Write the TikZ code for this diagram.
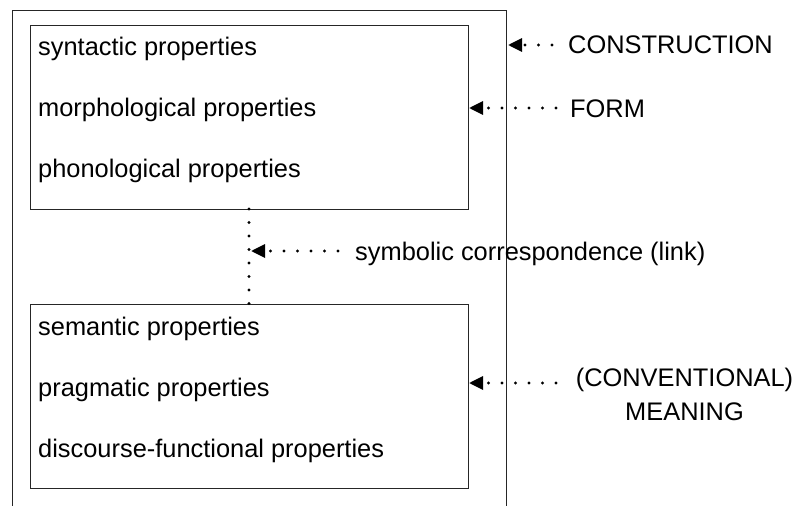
\documentclass[tikz,border=0pt]{standalone}
\usepackage{fontspec}
\setmainfont{Liberation Sans}
\usetikzlibrary{arrows.meta}
\begin{document}
\begin{tikzpicture}[x=1pt,y=-1pt,
  boxline/.style={draw=black!85,line width=1.4pt},
  propbox/.style={boxline,minimum width=438.5pt,minimum height=184pt,anchor=north west,inner sep=0pt},
  proptext/.style={anchor=base west,inner sep=0pt,font=\fontsize{25.4}{34}\selectfont},
  lbl/.style={inner sep=0pt,font=\fontsize{25.4}{34}\selectfont},
  dotline/.style={line width=3.2pt,line cap=round,dash pattern=on 0pt off 13.5pt},
  dotarrow/.style={dotline,-{Triangle[length=14pt,width=13pt]}},
]
\useasboundingbox (0,0) rectangle (796,506);
% outer construction box (open at the bottom)
\coordinate (outBL) at (12.5,512);
\coordinate (outTL) at (12.5,10.5);
\coordinate (outTR) at (506.5,10.5);
\coordinate (outBR) at (506.5,512);
\draw[boxline] (outBL) -- (outTL) -- (outTR) -- (outBR);
% form and meaning boxes
\node[propbox] (form) at (29.5,25) {};
\node[propbox] (meaning) at (29.5,304) {};
% texts
\node[proptext] (syn) at (38,55) {syntactic properties};
\node[proptext] (mor) at (38,116) {morphological properties};
\node[proptext] (pho) at (38,177) {phonological properties};
\node[proptext] (sem) at (38,335) {semantic properties};
\node[proptext] (pra) at (38,396) {pragmatic properties};
\node[proptext] (dis) at (38,457) {discourse-functional properties};
% link
\coordinate (linkTop) at (249,209);
\coordinate (linkBot) at (249,304);
\draw[dotline] (linkTop) -- (linkBot);
% labels
\node[lbl,anchor=base west] (cons) at (568,53) {CONSTRUCTION};
\node[lbl,anchor=base west] (formlbl) at (570,117) {FORM};
\node[lbl,anchor=base west] (link) at (355,260) {symbolic correspondence (link)};
\node[lbl,anchor=base] (conv) at (684.5,386) {(CONVENTIONAL)};
\node[lbl,anchor=base] (mean) at (684.5,420) {MEANING};
% arrows
\coordinate (consS) at (552,45);
\coordinate (consE) at (508,45);
\draw[dotarrow] (consS) -- (consE);
\coordinate (formS) at (556,108);
\coordinate (formE) at (469,108);
\draw[dotarrow] (formS) -- (formE);
\coordinate (linkS) at (338,251);
\coordinate (linkE) at (251,251);
\draw[dotarrow] (linkS) -- (linkE);
\coordinate (meanS) at (556,383);
\coordinate (meanE) at (469,383);
\draw[dotarrow] (meanS) -- (meanE);
\end{tikzpicture}
\end{document}
